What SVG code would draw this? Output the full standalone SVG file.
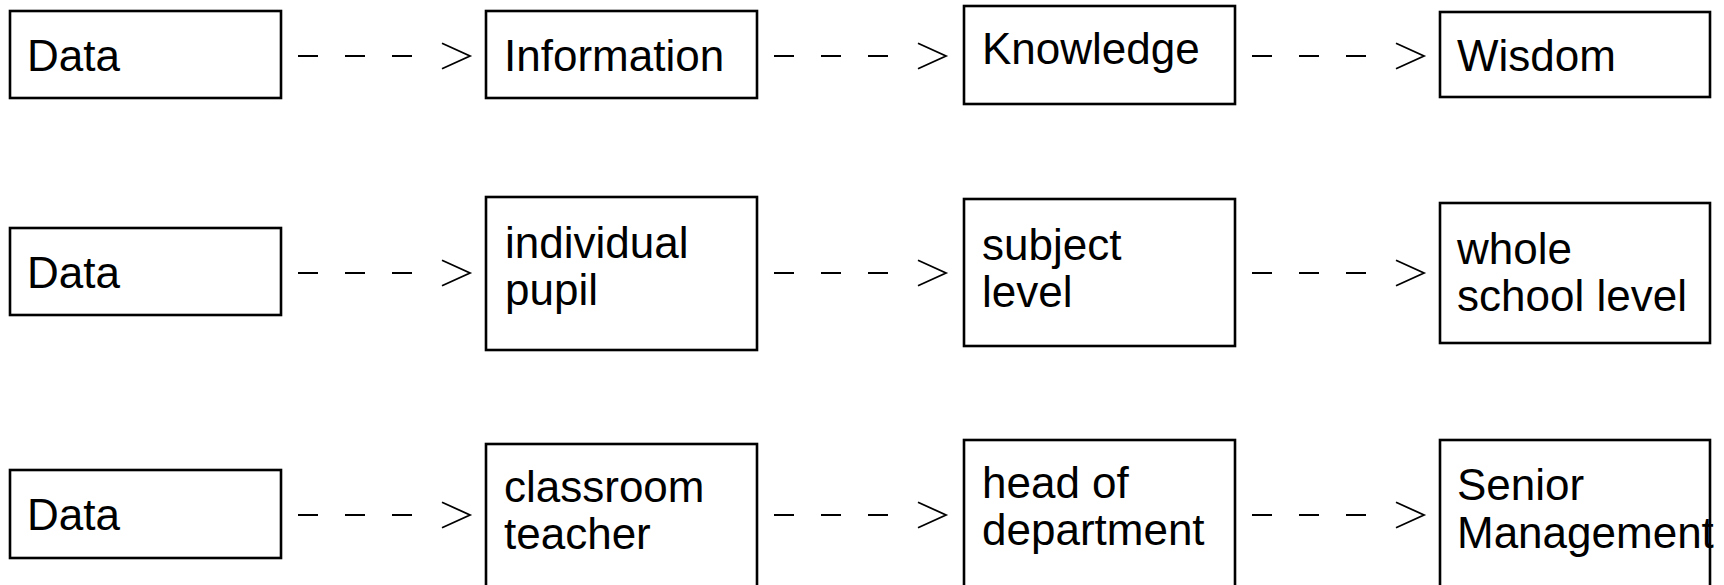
<svg xmlns="http://www.w3.org/2000/svg" width="1724" height="585" viewBox="0 0 1724 585">
<style>
.box{fill:#fff;stroke:#000;stroke-width:2.6}
.t{font-family:"Liberation Sans",Arial,sans-serif;font-size:44px;fill:#000}
.dash{stroke:#000;stroke-width:1.8;fill:none;stroke-dasharray:20 27}
.head{stroke:#000;stroke-width:1.8;fill:none}
</style>
<defs>
<g id="conn">
<line class="dash" x1="0" y1="0" x2="114" y2="0"/>
<polyline class="head" points="144,-12.8 172,0 144,12.8"/>
</g>
</defs>
<rect width="1724" height="585" fill="#fff"/>
<g id="connectors">
<use href="#conn" x="298" y="56"/>
<use href="#conn" x="774" y="56"/>
<use href="#conn" x="1252" y="56"/>
<use href="#conn" x="298" y="273"/>
<use href="#conn" x="774" y="273"/>
<use href="#conn" x="1252" y="273"/>
<use href="#conn" x="298" y="515"/>
<use href="#conn" x="774" y="515"/>
<use href="#conn" x="1252" y="515"/>
</g>
<g id="r1-data"><rect class="box" x="10" y="11" width="271" height="87"/><text class="t" x="27" y="71">Data</text></g>
<g id="r1-information"><rect class="box" x="486" y="11" width="271" height="87"/><text class="t" x="504" y="71">Information</text></g>
<g id="r1-knowledge"><rect class="box" x="964" y="6" width="271" height="98"/><text class="t" x="982" y="64">Knowledge</text></g>
<g id="r1-wisdom"><rect class="box" x="1440" y="12" width="270" height="85"/><text class="t" x="1457" y="71">Wisdom</text></g>
<g id="r2-data"><rect class="box" x="10" y="228" width="271" height="87"/><text class="t" x="27" y="288">Data</text></g>
<g id="r2-pupil"><rect class="box" x="486" y="197" width="271" height="153"/><text class="t" x="505" y="258">individual</text><text class="t" x="505" y="305">pupil</text></g>
<g id="r2-subject"><rect class="box" x="964" y="199" width="271" height="147"/><text class="t" x="982" y="260">subject</text><text class="t" x="982" y="307">level</text></g>
<g id="r2-school"><rect class="box" x="1440" y="203" width="270" height="140"/><text class="t" x="1457" y="264">whole</text><text class="t" x="1457" y="311">school level</text></g>
<g id="r3-data"><rect class="box" x="10" y="470" width="271" height="88"/><text class="t" x="27" y="530">Data</text></g>
<g id="r3-teacher"><rect class="box" x="486" y="444" width="271" height="160"/><text class="t" x="504" y="502">classroom</text><text class="t" x="504" y="549">teacher</text></g>
<g id="r3-hod"><rect class="box" x="964" y="440" width="271" height="160"/><text class="t" x="982" y="498">head of</text><text class="t" x="982" y="545">department</text></g>
<g id="r3-senior"><rect class="box" x="1440" y="440" width="270" height="160"/><text class="t" x="1457" y="500">Senior</text><text class="t" x="1457" y="548">Management</text></g>
</svg>
